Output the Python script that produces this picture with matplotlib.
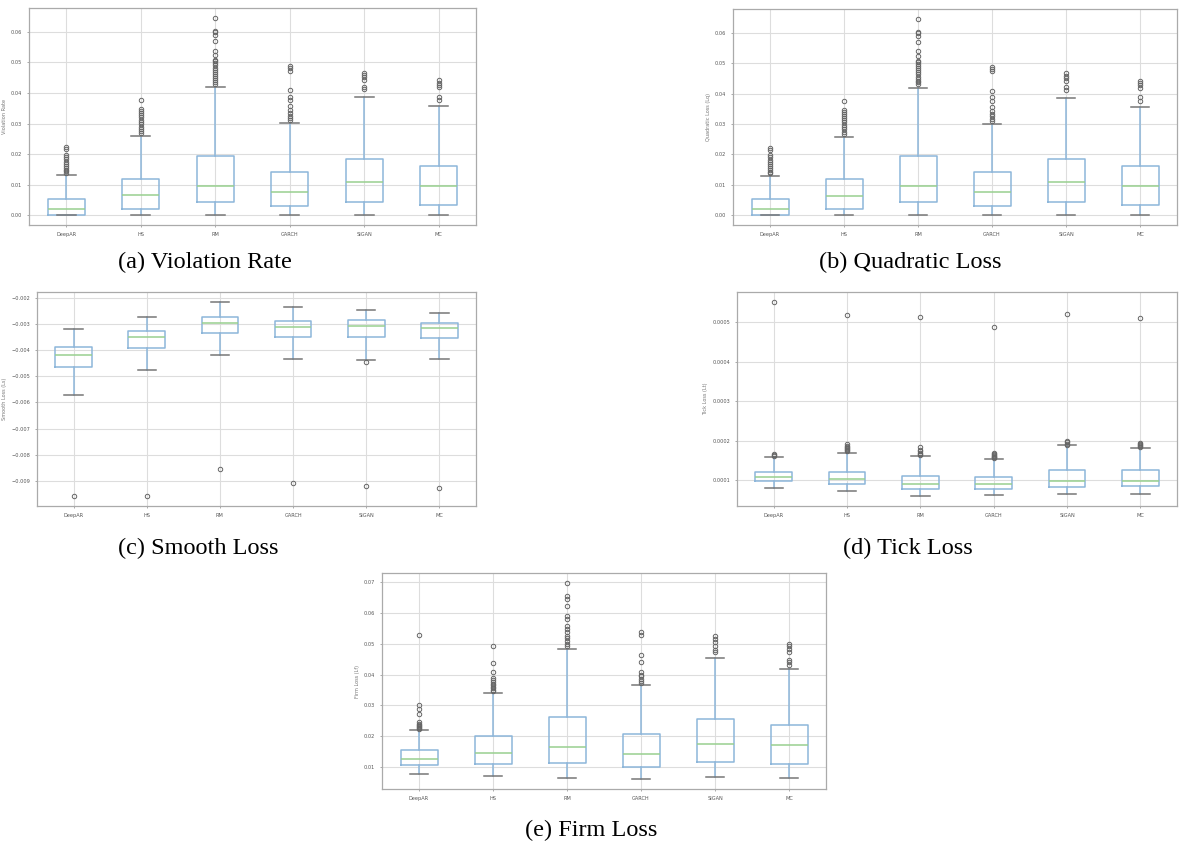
"""Five boxplot panels of VaR back-test losses, with captions under each."""

import matplotlib

matplotlib.use("Agg")
import matplotlib.pyplot as plt

METHODS = ["DeepAR", "HS", "RM", "GARCH", "SiGAN", "MC"]

# (a) violation rate
VR_LO = [0.0, 0.0, 0.0, 0.0, 0.0, 0.0]
VR_Q1 = [0.0, 0.00196, 0.00436, 0.00295, 0.00425, 0.00327]
VR_MED = [0.00196, 0.00644, 0.0097, 0.00753, 0.0108, 0.0097]
VR_Q3 = [0.00524, 0.01178, 0.0194, 0.01407, 0.01833, 0.01615]
VR_HI = [0.01298, 0.02585, 0.0419, 0.0301, 0.0386, 0.0357]
VR_FLIERS = [
    [0.01375, 0.01429, 0.01484, 0.01538, 0.01614, 0.01669, 0.01745, 0.01822,
     0.0192, 0.01964, 0.0215, 0.0222],
    [0.0268, 0.0275, 0.0282, 0.0290, 0.0297, 0.0305, 0.0312, 0.0320, 0.0327,
     0.0334, 0.0341, 0.0347, 0.0377],
    [0.0430, 0.0437, 0.0443, 0.0448, 0.0456, 0.0463, 0.0470, 0.0476, 0.0483,
     0.0491, 0.0497, 0.0505, 0.0508, 0.0525, 0.0539, 0.0569, 0.0590, 0.0599,
     0.0604, 0.0646],
    [0.0310, 0.0317, 0.0326, 0.0334, 0.0343, 0.0356, 0.0377, 0.0388, 0.0410,
     0.0473, 0.0482, 0.0489],
    [0.0412, 0.0421, 0.0443, 0.0451, 0.0459, 0.0467],
    [0.0377, 0.0388, 0.0419, 0.0427, 0.0434, 0.0443],
]

# (b) quadratic loss -- reads the same as the violation rate panel
QL_LO = list(VR_LO)
QL_Q1 = list(VR_Q1)
QL_MED = list(VR_MED)
QL_Q3 = list(VR_Q3)
QL_HI = list(VR_HI)
QL_FLIERS = [list(f) for f in VR_FLIERS]

# (c) smooth loss
SL_LO = [-0.00571, -0.00477, -0.0042, -0.00435, -0.00437, -0.00435]
SL_Q1 = [-0.00466, -0.00391, -0.00334, -0.00351, -0.00349, -0.00353]
SL_MED = [-0.00418, -0.00351, -0.00296, -0.00311, -0.00308, -0.00315]
SL_Q3 = [-0.00387, -0.00329, -0.00273, -0.00289, -0.00285, -0.00296]
SL_HI = [-0.00319, -0.00273, -0.00216, -0.00237, -0.00247, -0.00258]
SL_FLIERS = [[-0.00957], [-0.00958], [-0.00854], [-0.00908],
             [-0.00446, -0.00918], [-0.00927]]

# (d) tick loss
TL_LO = [0.0000797, 0.0000722, 0.0000595, 0.000062, 0.0000646, 0.0000654]
TL_Q1 = [0.0000975, 0.00009, 0.000078, 0.000078, 0.000084, 0.0000848]
TL_MED = [0.000108, 0.000103, 0.00009, 0.00009, 0.0000983, 0.0000975]
TL_Q3 = [0.000122, 0.000122, 0.00011, 0.000108, 0.000127, 0.000125]
TL_HI = [0.000158, 0.00017, 0.000161, 0.000155, 0.000189, 0.000181]
TL_FLIERS = [
    [0.000162, 0.000164, 0.000166, 0.000552],
    [0.000173, 0.000176, 0.000179, 0.000182, 0.000185, 0.000188, 0.000193, 0.000519],
    [0.000164, 0.000167, 0.00017, 0.000173, 0.000176, 0.000183, 0.000514],
    [0.000156, 0.000158, 0.00016, 0.000162, 0.000164, 0.000166, 0.000168, 0.000487],
    [0.00019, 0.000193, 0.000196, 0.0002, 0.000521],
    [0.000183, 0.000186, 0.000189, 0.000192, 0.000195, 0.00051],
]

# (e) firm loss
FL_LO = [0.00775, 0.00721, 0.00657, 0.00614, 0.00678, 0.00646]
FL_Q1 = [0.01086, 0.01096, 0.01129, 0.0100, 0.01161, 0.01118]
FL_MED = [0.01257, 0.0145, 0.01643, 0.01418, 0.0174, 0.01707]
FL_Q3 = [0.01547, 0.02018, 0.0264, 0.02083, 0.02576, 0.02383]
FL_HI = [0.0219, 0.03412, 0.04826, 0.03669, 0.04537, 0.04183]
FL_FLIERS = [
    [0.02254, 0.0228, 0.0231, 0.0234, 0.0237, 0.0240, 0.02468, 0.0274, 0.02876,
     0.0300, 0.0529],
    [0.03454, 0.0350, 0.0355, 0.0360, 0.0365, 0.0370, 0.0376, 0.0382, 0.0390,
     0.04076, 0.04376, 0.04933],
    [0.04912, 0.04987, 0.05094, 0.05169, 0.05255, 0.05362, 0.05469, 0.05577,
     0.05812, 0.05898, 0.0622, 0.06434, 0.06541, 0.0697],
    [0.03733, 0.0380, 0.0387, 0.0395, 0.0400, 0.04076, 0.04398, 0.04644,
     0.05276, 0.05384],
    [0.0474, 0.04805, 0.04934, 0.05041, 0.05148, 0.05234],
    [0.04323, 0.04398, 0.04483, 0.04719, 0.04826, 0.04934, 0.04987],
]

FIG_W, FIG_H = 1181, 846
BOX_BLUE = "#8db6da"


def _stats(lo, q1, med, q3, hi, fliers):
    return [
        dict(whislo=a, q1=b, med=c, q3=d, whishi=e, fliers=f, label=m)
        for a, b, c, d, e, f, m in zip(lo, q1, med, q3, hi, fliers, METHODS)
    ]


def _panel(fig, box_px, stats, ylabel, caption, caption_xy):
    left, top, right, bottom = box_px
    ax = fig.add_axes([left / FIG_W, 1 - bottom / FIG_H,
                       (right - left) / FIG_W, (bottom - top) / FIG_H])
    ax.bxp(
        stats,
        widths=0.5,
        boxprops=dict(color=BOX_BLUE, linewidth=1.1),
        whiskerprops=dict(color=BOX_BLUE, linewidth=1.1),
        capprops=dict(color="#777777", linewidth=1.1),
        medianprops=dict(color="#98d08f", linewidth=1.1),
        flierprops=dict(marker="o", markersize=3.2, markerfacecolor="none",
                        markeredgecolor="#666666", markeredgewidth=0.7),
    )
    ax.grid(True, color="#dddddd", linewidth=0.8)
    ax.set_axisbelow(True)
    for sp in ax.spines.values():
        sp.set_color("#aaaaaa")
        sp.set_linewidth(0.9)
    ax.tick_params(labelsize=3.6, colors="#888888", length=1.5, width=0.5,
                   labelcolor="#555555")
    ax.set_ylabel(ylabel, fontsize=3.6, color="#777777", labelpad=3)
    fig.text(caption_xy[0] / FIG_W, 1 - caption_xy[1] / FIG_H, caption,
             ha="center", va="center", fontsize=17.5,
             family=["Liberation Serif", "DejaVu Serif"])
    return ax


def main():
    fig = plt.figure(figsize=(FIG_W / 100, FIG_H / 100), dpi=100)
    fig.patch.set_facecolor("white")

    _panel(fig, (29, 8, 476, 225),
           _stats(VR_LO, VR_Q1, VR_MED, VR_Q3, VR_HI, VR_FLIERS),
           "Violation Rate", "(a) Violation Rate", (205, 262))
    _panel(fig, (733, 9, 1177, 225),
           _stats(QL_LO, QL_Q1, QL_MED, QL_Q3, QL_HI, QL_FLIERS),
           "Quadratic Loss (Lq)", "(b) Quadratic Loss", (910, 262))
    _panel(fig, (37, 292, 476, 506),
           _stats(SL_LO, SL_Q1, SL_MED, SL_Q3, SL_HI, SL_FLIERS),
           "Smooth Loss (Ls)", "(c) Smooth Loss", (198, 548))
    _panel(fig, (737, 292, 1177, 506),
           _stats(TL_LO, TL_Q1, TL_MED, TL_Q3, TL_HI, TL_FLIERS),
           "Tick Loss (Lt)", "(d) Tick Loss", (908, 548))
    _panel(fig, (382, 573, 826, 789),
           _stats(FL_LO, FL_Q1, FL_MED, FL_Q3, FL_HI, FL_FLIERS),
           "Firm Loss (Lf)", "(e) Firm Loss", (591, 830))

    fig.savefig("out.png", dpi=100, facecolor="white")
    plt.close(fig)


if __name__ == "__main__":
    main()
